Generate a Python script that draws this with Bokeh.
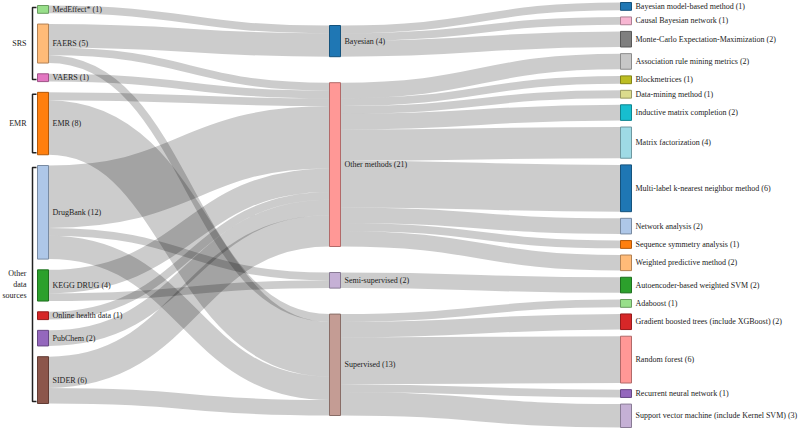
from bokeh.plotting import figure
from bokeh.models import Range1d, ColumnDataSource
from bokeh.core.properties import value
from bokeh.embed import file_html
from bokeh.resources import INLINE

# ---------------- data ----------------
data_sources = ["MedEffect*", "FAERS", "VAERS", "EMR", "DrugBank", "KEGG DRUG",
                "Online health data", "PubChem", "SIDER"]
method_groups = ["Bayesian", "Other methods", "Semi-supervised", "Supervised"]

# data source -> method group links
link1_src = ["MedEffect*", "FAERS", "FAERS", "FAERS", "VAERS", "EMR", "EMR",
             "DrugBank", "DrugBank", "DrugBank", "KEGG DRUG", "KEGG DRUG",
             "Online health data", "PubChem", "SIDER", "SIDER"]
link1_tgt = ["Bayesian", "Bayesian", "Other methods", "Supervised", "Other methods",
             "Other methods", "Supervised", "Other methods", "Semi-supervised",
             "Supervised", "Other methods", "Semi-supervised", "Other methods",
             "Other methods", "Other methods", "Supervised"]
link1_val = [1, 3, 1, 1, 1, 1, 7, 8, 1, 3, 3, 1, 1, 2, 4, 2]

# algorithms, their method group and counts
algorithms = ["Bayesian model-based method", "Causal Bayesian network",
              "Monte-Carlo Expectation-Maximization", "Association rule mining metrics",
              "Blockmetrices", "Data-mining method", "Inductive matrix completion",
              "Matrix factorization", "Multi-label k-nearest neighbor method",
              "Network analysis", "Sequence symmetry analysis", "Weighted predictive method",
              "Autoencoder-based weighted SVM", "Adaboost",
              "Gradient boosted trees (include XGBoost)", "Random forest",
              "Recurrent neural network", "Support vector machine (include Kernel SVM)"]
algorithm_group = ["Bayesian", "Bayesian", "Bayesian", "Other methods", "Other methods",
                   "Other methods", "Other methods", "Other methods", "Other methods",
                   "Other methods", "Other methods", "Other methods", "Semi-supervised",
                   "Supervised", "Supervised", "Supervised", "Supervised", "Supervised"]
algorithm_count = [1, 1, 2, 2, 1, 1, 2, 4, 6, 2, 1, 2, 2, 1, 2, 6, 1, 3]

# source groupings (brackets)
group_labels = ["SRS", "EMR", "Other\ndata\nsources"]
group_members = [["MedEffect*", "FAERS", "VAERS"], ["EMR"],
                 ["DrugBank", "KEGG DRUG", "Online health data", "PubChem", "SIDER"]]

# colours
node_colors = {
    "MedEffect*": "#98df8a", "FAERS": "#ffbb78", "VAERS": "#e377c2", "EMR": "#ff7f0e",
    "DrugBank": "#aec7e8", "KEGG DRUG": "#2ca02c", "Online health data": "#d62728",
    "PubChem": "#9467bd", "SIDER": "#8c564b",
    "Bayesian": "#1f77b4", "Other methods": "#ff9896", "Semi-supervised": "#c5b0d5",
    "Supervised": "#c49c94",
    "Bayesian model-based method": "#1f77b4", "Causal Bayesian network": "#f7b6d2",
    "Monte-Carlo Expectation-Maximization": "#7f7f7f",
    "Association rule mining metrics": "#c7c7c7", "Blockmetrices": "#bcbd22",
    "Data-mining method": "#dbdb8d", "Inductive matrix completion": "#17becf",
    "Matrix factorization": "#9edae5", "Multi-label k-nearest neighbor method": "#1f77b4",
    "Network analysis": "#aec7e8", "Sequence symmetry analysis": "#ff7f0e",
    "Weighted predictive method": "#ffbb78", "Autoencoder-based weighted SVM": "#2ca02c",
    "Adaboost": "#98df8a", "Gradient boosted trees (include XGBoost)": "#d62728",
    "Random forest": "#ff9896", "Recurrent neural network": "#9467bd",
    "Support vector machine (include Kernel SVM)": "#c5b0d5",
}

# ---------------- layout ----------------
links_src = link1_src + algorithm_group
links_tgt = link1_tgt + algorithms
links_val = link1_val + algorithm_count

columns = [data_sources, method_groups, algorithms]
col_x = [37, 329, 620]
node_w = 11
col_extent = [(5, 403), (25, 415), (2, 427)]
k = 7.8  # px per unit

node_val = {}
for s, t, v in zip(links_src, links_tgt, links_val):
    node_val.setdefault(s, [0, 0])
    node_val.setdefault(t, [0, 0])
    node_val[s][1] += v
    node_val[t][0] += v
nv = {n: max(a) for n, a in node_val.items()}

pos = {}
for ci, col in enumerate(columns):
    total = sum(nv[n] for n in col) * k
    e0, e1 = col_extent[ci]
    pad = (e1 - e0 - total) / (len(col) - 1)
    y = e0
    for n in col:
        h = nv[n] * k
        pos[n] = (col_x[ci], col_x[ci] + node_w, y, y + h)
        y += h + pad

# link offsets
out_off = {n: pos[n][2] for n in pos}
in_off = {n: pos[n][2] for n in pos}
order = list(range(len(links_val)))
L = {}
for i in sorted(order, key=lambda i: (pos[links_src[i]][2], pos[links_tgt[i]][2])):
    s = links_src[i]
    w = links_val[i] * k
    L.setdefault(i, {})["sy"] = out_off[s] + w / 2
    out_off[s] += w
for i in sorted(order, key=lambda i: (pos[links_tgt[i]][2], pos[links_src[i]][2])):
    t = links_tgt[i]
    w = links_val[i] * k
    L[i]["ty"] = in_off[t] + w / 2
    in_off[t] += w

lx0, ly0, lx1, ly1, lcx, lw = [], [], [], [], [], []
for i in order:
    x0 = pos[links_src[i]][1]
    x1 = pos[links_tgt[i]][0]
    lx0.append(x0); lx1.append(x1)
    ly0.append(L[i]["sy"]); ly1.append(L[i]["ty"])
    lcx.append((x0 + x1) / 2)
    lw.append(links_val[i] * k)

# ---------------- figure ----------------
W, H = 800, 434
p = figure(width=W, height=H, output_backend="svg", toolbar_location=None,
           x_range=Range1d(0, W), y_range=Range1d(H, 0), min_border=0)
p.axis.visible = False
p.grid.visible = False
p.outline_line_color = None
p.background_fill_color = "white"

lsrc = ColumnDataSource(dict(x0=lx0, y0=ly0, x1=lx1, y1=ly1, cx=lcx, w=lw))
p.bezier(x0="x0", y0="y0", x1="x1", y1="y1", cx0="cx", cy0="y0", cx1="cx", cy1="y1",
         line_width="w", line_color="black", line_alpha=0.2, line_cap="butt",
         source=lsrc)


def darker(c, f=0.7):
    r, g, b = int(c[1:3], 16), int(c[3:5], 16), int(c[5:7], 16)
    return "#%02x%02x%02x" % (int(r * f), int(g * f), int(b * f))


names = [n for col in columns for n in col]
nsrc = ColumnDataSource(dict(
    left=[pos[n][0] for n in names], right=[pos[n][1] for n in names],
    top=[pos[n][2] for n in names], bottom=[pos[n][3] for n in names],
    fill=[node_colors[n] for n in names], line=[darker(node_colors[n]) for n in names],
    lx=[pos[n][1] + 4 for n in names],
    ly=[(pos[n][2] + pos[n][3]) / 2 for n in names],
    label=["%s (%d)" % (n, nv[n]) for n in names],
))
p.quad(left="left", right="right", top="top", bottom="bottom", fill_color="fill",
       line_color="line", line_width=1, source=nsrc)
p.text(x="lx", y="ly", text="label", source=nsrc, text_baseline="middle",
       text_align="left", text_font=value("Liberation Serif"), text_font_size="8px",
       text_color="#222222")

# brackets
bx, by = [], []
gx, gy, gt = [], [], []
for lab, mem in zip(group_labels, group_members):
    top = pos[mem[0]][2] + 2
    bot = pos[mem[-1]][3] - 2
    xb = pos[mem[0]][0] - 5
    bx.append([xb + 4, xb, xb, xb + 4])
    by.append([top, top, bot, bot])
    lines = lab.split("\n")
    mid = (top + bot) / 2
    lh = 11
    for j, ln in enumerate(lines):
        gx.append(xb - 6)
        gy.append(mid + (j - (len(lines) - 1) / 2) * lh)
        gt.append(ln)
p.multi_line(xs=bx, ys=by, line_color="#222222", line_width=1.5)
p.text(x=gx, y=gy, text=gt, text_baseline="middle", text_align="right",
       text_font=value("Liberation Serif"), text_font_size="8px", text_color="#222222")

open("out.html", "w").write(file_html(p, INLINE))
